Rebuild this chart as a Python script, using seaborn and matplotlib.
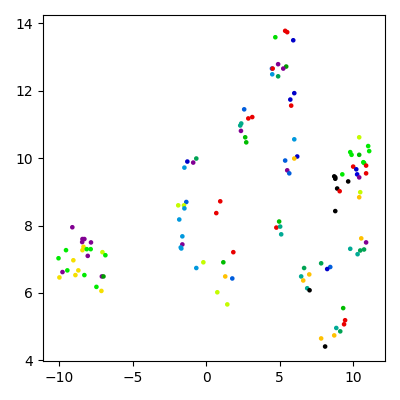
import matplotlib
matplotlib.use("Agg")
import matplotlib.pyplot as plt
import pandas as pd
import seaborn as sns

# embedding coordinates, colour value in [0, 1] for nipy_spectral
x = [-9.12, -8.43, -8.30, -8.45, -7.85, -8.36, -8.43, -8.14, -7.87, -9.55,
     -8.07, -7.07, -6.87, -10.06, -9.05, -8.71, -9.46, -9.79, -8.91, -8.30,
     -10.00, -7.11, -7.00, -7.48, -7.14,
     2.36, 2.65, 2.72, -0.68, -1.29, -0.89, -1.49, -1.36, -1.91, -1.52,
     -1.49, 0.95, 0.68, -1.84, -1.63, -1.63, -1.74, -1.70, 1.84, -0.20,
     1.16, -0.68, 1.29, 1.77, 0.75, 1.43,
     2.58, 2.86, 3.13, 2.38, 2.31,
     5.37, 5.51, 4.70, 5.92, 4.89, 5.44, 5.24, 4.47, 4.52, 4.49,
     4.89, 5.99, 5.72, 5.78,
     5.99, 6.19, 5.99, 5.37, 5.51, 5.65, 4.96, 4.77, 5.03, 5.10,
     10.41, 11.02, 11.09, 9.80, 9.89, 10.41, 10.69, 10.74, 10.00, 10.88,
     10.21, 10.27, 10.41, 10.88, 9.26, 8.71, 8.78, 8.78, 9.66, 8.91,
     9.08, 10.48, 10.41, 8.78, 10.55, 10.88, 9.80,
     10.48, 10.74, 10.30, 6.66, 7.82, 8.44, 8.23, 7.01, 6.46, 6.60,
     6.87, 7.03, 9.32, 9.45, 9.38, 8.85, 9.12, 7.82, 8.71, 8.09]
y = [7.95, 7.60, 7.60, 7.51, 7.50, 7.37, 7.27, 7.30, 7.30, 7.27,
     7.10, 7.21, 7.12, 7.03, 6.97, 6.67, 6.67, 6.62, 6.53, 6.53,
     6.46, 6.49, 6.49, 6.18, 6.06,
     10.81, 10.62, 10.47, 9.99, 9.90, 9.87, 9.72, 8.70, 8.60, 8.60,
     8.51, 8.72, 8.37, 8.18, 7.68, 7.44, 7.35, 7.32, 7.21, 6.91,
     6.91, 6.74, 6.49, 6.43, 6.02, 5.66,
     11.45, 11.18, 11.22, 11.03, 10.97,
     13.78, 13.74, 13.59, 13.50, 12.79, 12.72, 12.66, 12.66, 12.66, 12.49,
     12.43, 11.93, 11.74, 11.56,
     10.56, 10.05, 9.99, 9.93, 9.64, 9.55, 8.12, 7.94, 7.97, 7.74,
     10.62, 10.36, 10.21, 10.18, 10.10, 10.10, 9.88, 9.86, 9.75, 9.78,
     9.67, 9.52, 9.43, 9.55, 9.52, 9.46, 9.43, 9.39, 9.31, 9.10,
     9.02, 8.99, 8.84, 8.43, 7.62, 7.50, 7.31,
     7.26, 7.29, 7.15, 6.74, 6.88, 6.77, 6.71, 6.55, 6.49, 6.37,
     6.14, 6.08, 5.55, 5.19, 5.07, 4.96, 4.86, 4.65, 4.74, 4.41]
label = [0.08, 0.08, 0.08, 0.08, 0.08, 0.72, 0.72, 0.57, 0.57, 0.57,
         0.08, 0.66, 0.57, 0.57, 0.72, 0.72, 0.57, 0.08, 0.72, 0.57,
         0.72, 0.08, 0.45, 0.57, 0.72,
         0.08, 0.5, 0.5, 0.42, 0.18, 0.08, 0.3, 0.24, 0.66, 0.66,
         0.3, 0.88, 0.88, 0.3, 0.3, 0.08, 0.3, 0.3, 0.88, 0.66,
         0.5, 0.3, 0.76, 0.24, 0.66, 0.66,
         0.24, 0.88, 0.88, 0.4, 0.4,
         0.88, 0.88, 0.55, 0.18, 0.08, 0.45, 0.08, 0.24, 0.88, 0.3,
         0.42, 0.18, 0.18, 0.88,
         0.3, 0.18, 0.76, 0.24, 0.08, 0.24, 0.5, 0.88, 0.4, 0.38,
         0.66, 0.57, 0.57, 0.57, 0.57, 0.5, 0.57, 0.57, 0.88, 0.88,
         0.18, 0.2, 0.08, 0.88, 0.57, 0.0, 0.0, 0.0, 0.0, 0.0,
         0.88, 0.66, 0.76, 0.0, 0.76, 0.08, 0.38,
         0.42, 0.42, 0.38, 0.42, 0.42, 0.24, 0.18, 0.76, 0.38, 0.76,
         0.38, 0.0, 0.5, 0.88, 0.88, 0.38, 0.42, 0.76, 0.76, 0.0]

df = pd.DataFrame({"x": x, "y": y, "label": label})

fig, ax = plt.subplots(figsize=(4, 4), dpi=100)
sns.scatterplot(data=df, x="x", y="y", hue="label", palette="nipy_spectral",
                hue_norm=(0, 1), s=11, linewidth=0, legend=False, ax=ax)
ax.set_xlabel("")
ax.set_ylabel("")
ax.set_xlim(-11.13, 12.18)
ax.set_ylim(3.98, 14.25)
fig.subplots_adjust(left=0.107, right=0.963, top=0.9625, bottom=0.0975)
fig.savefig("out.png")
